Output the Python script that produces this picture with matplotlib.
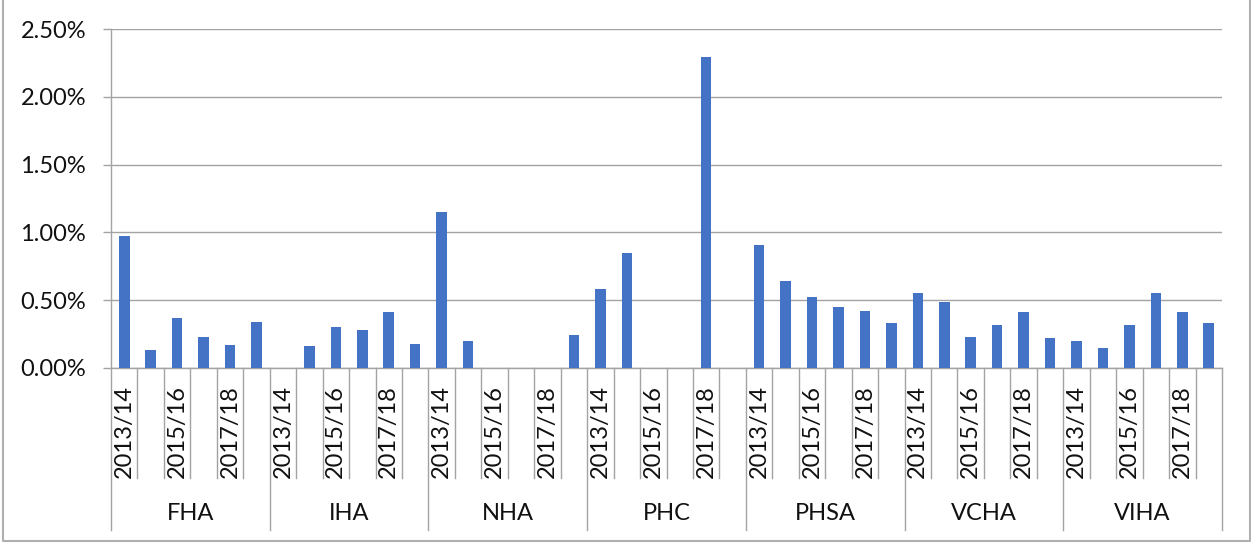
import matplotlib
matplotlib.use("Agg")
import matplotlib.pyplot as plt
import matplotlib.transforms as mtransforms
from matplotlib.lines import Line2D
from matplotlib.ticker import FuncFormatter

groups = ['FHA', 'IHA', 'NHA', 'PHC', 'PHSA', 'VCHA', 'VIHA']
years = ['2013/14', '2014/15', '2015/16', '2016/17', '2017/18', '2018/19']
shown_years = ['2013/14', '2015/16', '2017/18']

fha = [0.97, 0.13, 0.37, 0.23, 0.17, 0.34]
iha = [0.0, 0.16, 0.30, 0.28, 0.41, 0.18]
nha = [1.15, 0.20, 0.0, 0.0, 0.0, 0.24]
phc = [0.58, 0.85, 0.0, 0.0, 2.29, 0.0]
phsa = [0.91, 0.64, 0.52, 0.45, 0.42, 0.33]
vcha = [0.55, 0.49, 0.23, 0.32, 0.41, 0.22]
viha = [0.20, 0.15, 0.32, 0.55, 0.41, 0.33]
series = [fha, iha, nha, phc, phsa, vcha, viha]

yticks = [0.0, 0.5, 1.0, 1.5, 2.0, 2.5]

W, H = 1251, 543
DPI = 100
FONT = ['Lato', 'DejaVu Sans']
FS = 17
GRID = '#a3a3a3'
BAR = '#4472C4'

fig = plt.figure(figsize=(W / DPI, H / DPI), dpi=DPI)
left_px, right_px, top_px, bot_px = 111, 1222, 29, 368
ax = fig.add_axes([left_px / W, 1 - bot_px / H, (right_px - left_px) / W, (bot_px - top_px) / H])

values = [v for s in series for v in s]
n = len(values)
xs = list(range(n))
ax.bar(xs, values, width=0.4, color=BAR, zorder=3)

ax.set_xlim(-0.5, n - 0.5)
ax.set_ylim(0, 2.5)
ax.set_yticks(yticks)
ax.yaxis.set_major_formatter(FuncFormatter(lambda v, p: f"{v:.2f}%"))
ax.grid(axis='y', color=GRID, linewidth=1.0, zorder=0)
ax.set_axisbelow(True)
for sp in ['top', 'right']:
    ax.spines[sp].set_visible(False)
ax.spines['left'].set_color(GRID)
ax.spines['bottom'].set_color(GRID)
ax.spines['left'].set_linewidth(1.0)
ax.spines['bottom'].set_linewidth(1.0)
ax.tick_params(axis='y', length=6, width=1.0, color=GRID, pad=12, labelsize=FS,
               labelcolor='#111111')
for lbl in ax.get_yticklabels():
    lbl.set_fontfamily(FONT)
ax.set_xticks([])

blend = mtransforms.blended_transform_factory(ax.transData, fig.transFigure)
def fy(px):
    return 1 - px / H

ng = len(years)
for k in range(n + 1):
    xb = k - 0.5
    y_end = 530 if k % ng == 0 else 478
    ax.plot([xb, xb], [fy(bot_px), fy(y_end)], transform=blend, color=GRID,
            linewidth=1.0, clip_on=False, zorder=1)

for gi, g in enumerate(groups):
    for yi, yr in enumerate(years):
        if yr in shown_years:
            ax.text(gi * ng + yi, fy(385), yr, transform=blend, rotation=90,
                    ha='center', va='top', fontsize=FS, family=FONT, color='#111111')
    ax.text(gi * ng + (ng - 1) / 2, fy(514), g, transform=blend, ha='center',
            va='center', fontsize=FS, family=FONT, color='#111111')

border = '#b0b0b0'
xl, xr, yb = 2.5 / W, (W - 1.5) / W, fy(540.5)
fig.lines.append(Line2D([xl, xl, xr, xr], [1.0, yb, yb, 1.0], transform=fig.transFigure,
                        color=border, linewidth=1.5))

fig.savefig('out.png', dpi=DPI)
